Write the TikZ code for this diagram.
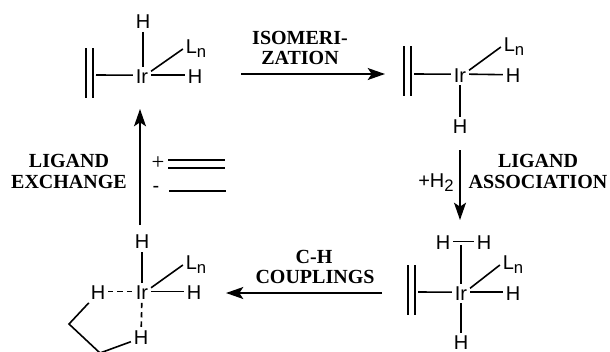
\documentclass[tikz,border=0pt]{standalone}
\usepackage{fontspec}
\setmainfont{Liberation Serif}
\setsansfont{Liberation Sans}
\usepackage{tikz}
\usetikzlibrary{arrows.meta}
\tikzset{
  atom/.style={font=\sffamily\fontsize{15}{15}\selectfont, inner sep=2pt},
  step label/.style={font=\rmfamily\bfseries\fontsize{15}{15}\selectfont, inner sep=0pt},
  bond/.style={line width=1.2pt},
  weak bond/.style={line width=1.2pt, dash pattern=on 4pt off 3pt},
  cycle arrow/.style={line width=1.2pt, -{Stealth[length=13pt,width=9pt,inset=3pt]}}
}
\newcommand{\alkene}[2]{
  \draw [bond] (#1,#2) -- (#1,#2+50);
  \draw [bond] (#1+7,#2) -- (#1+7,#2+50);
}
\newcommand{\hbond}[2]{\draw [bond] ([yshift=1pt]#1) -- ([yshift=1pt]#2);}
\newcommand{\Lsub}{L\raisebox{-3pt}{\fontsize{12.5}{12.5}\selectfont n}}
\begin{document}
\begin{tikzpicture}[x=0.75pt,y=-0.75pt]
\useasboundingbox (0,0) rectangle (610,351);
\clip (0,0) rectangle (610,351);
% top left complex
\node [atom] (ir1) at (142,76.5) {Ir};
\node [atom] (h1a) at (143,22) {H};
\node [atom] (l1) at (196,49) {\Lsub};
\node [atom] (h1b) at (195,76.5) {H};
\coordinate (c1) at (96,75);
\alkene{86}{48}
\draw [bond] (h1a) -- (h1a |- ir1.north);
\draw [bond] (ir1.30) -- (l1.west);
\hbond{ir1.east}{h1b.west}
\draw [bond] (c1) -- ([yshift=1pt]ir1.west);
% top right complex
\node [atom] (ir2) at (460,75.5) {Ir};
\node [atom] (l2) at (514,47) {\Lsub};
\node [atom] (h2a) at (513,76) {H};
\node [atom] (h2b) at (460,127) {H};
\coordinate (c2) at (414,74);
\alkene{404}{46}
\draw [bond] (ir2.30) -- (l2.west);
\hbond{ir2.east}{h2a.west}
\draw [bond] (ir2) -- (h2b);
\draw [bond] (c2) -- ([yshift=1pt]ir2.west);
% bottom right complex
\node [atom] (ir3) at (461,293.5) {Ir};
\node [atom] (h3a) at (443,243) {H};
\node [atom] (h3b) at (484,243) {H};
\node [atom] (l3) at (513,265) {\Lsub};
\node [atom] (h3c) at (513,293.5) {H};
\node [atom, inner sep=0pt] (h3d) at (461,342.5) {H};
\coordinate (c3) at (418,292);
\coordinate (m3) at (461,245);
\alkene{408}{265}
\hbond{h3a.east}{h3b.west}
\draw [bond] (ir3) -- (m3);
\draw [bond] (ir3.30) -- (l3.west);
\hbond{ir3.east}{h3c.west}
\draw [bond, shorten >=2pt] (ir3) -- (h3d);
\draw [bond] (c3) -- ([yshift=1pt]ir3.west);
% bottom left complex
\node [atom] (ir4) at (142,293) {Ir};
\node [atom] (h4a) at (142,242) {H};
\node [atom] (l4) at (196,265) {\Lsub};
\node [atom] (h4b) at (194,293) {H};
\node [atom] (h4c) at (98,293) {H};
\node [atom] (h4d) at (141,338) {H};
\coordinate (c4a) at (69,324);
\coordinate (c4b) at (100,353);
\draw [bond] (ir4) -- (h4a);
\draw [bond] (ir4.30) -- (l4.west);
\hbond{ir4.east}{h4b.west}
\draw [weak bond] ([yshift=1pt]h4c.east) -- ([yshift=1pt]ir4.west);
\draw [weak bond] (ir4) -- (h4d);
\draw [bond] (h4c) -- (c4a) -- (c4b) -- (h4d);
% arrows
\coordinate (a1) at (241,74);
\coordinate (a2) at (385,74);
\coordinate (b1) at (460,150);
\coordinate (b2) at (460,220);
\coordinate (d1) at (382,293);
\coordinate (d2) at (226,293);
\coordinate (e1) at (140,225);
\coordinate (e2) at (140,109);
\draw [cycle arrow] (a1) -- (a2);
\draw [cycle arrow] (b1) -- (b2);
\draw [cycle arrow] (d1) -- (d2);
\draw [cycle arrow] (e1) -- (e2);
% labels
\node [step label] (iso) at (300,38) {ISOMERI-};
\node [step label] (zat) at (300,58) {ZATION};
\node [step label] (lig2) at (538,161) {LIGAND};
\node [step label] (ass) at (538,182) {ASSOCIATION};
\node [atom, inner sep=0pt] (plush) at (436,183) {+H\raisebox{-3pt}{\fontsize{12.5}{12.5}\selectfont 2}};
\node [step label] (ch) at (314,257) {C-H};
\node [step label] (cou) at (315,277) {COUPLINGS};
\node [step label] (lig1) at (69,161) {LIGAND};
\node [step label] (exc) at (69,182) {EXCHANGE};
% ethylene in, ethane out
\node [atom, font=\rmfamily\fontsize{17}{17}\selectfont] (plus) at (158,163) {+};
\node [atom] (minus) at (156,189) {-};
\coordinate (f1) at (168,160);
\coordinate (f2) at (225,160);
\coordinate (g1) at (168,168);
\coordinate (g2) at (225,168);
\coordinate (k1) at (169,191);
\coordinate (k2) at (226,191);
\draw [bond] (f1) -- (f2);
\draw [bond] (g1) -- (g2);
\draw [bond] (k1) -- (k2);
\end{tikzpicture}
\end{document}
